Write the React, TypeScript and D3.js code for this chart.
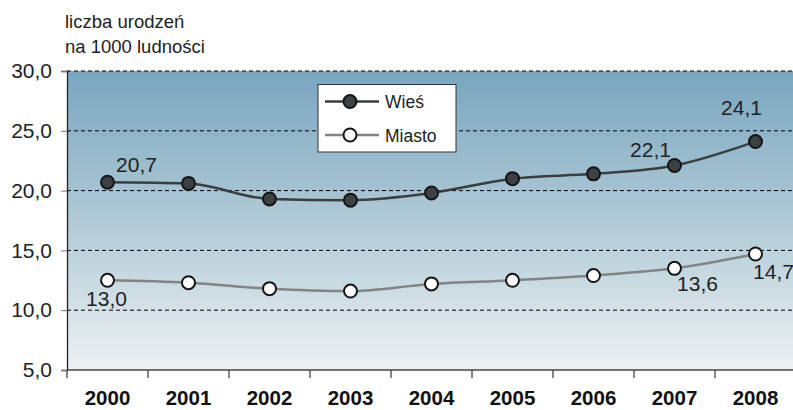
import React, { useEffect, useRef } from "react";
import * as d3 from "d3";

const years = ["2000", "2001", "2002", "2003", "2004", "2005", "2006", "2007", "2008"];
const wiesValues = [20.7, 20.6, 19.3, 19.2, 19.8, 21.0, 21.4, 22.1, 24.1];
const miastoValues = [12.5, 12.3, 11.8, 11.6, 12.2, 12.5, 12.9, 13.5, 14.7];
const yTicks = [5, 10, 15, 20, 25, 30];
const gridTicks = [10, 15, 20, 25, 30];

// value labels printed on the chart: [series, year index, text, dx, dy]
const valueLabels: Array<[string, number, string, number, number]> = [
  ["wies", 0, "20,7", 29, -10],
  ["wies", 7, "22,1", -24, -8],
  ["wies", 8, "24,1", -14, -27],
  ["miasto", 0, "13,0", -1, 26],
  ["miasto", 7, "13,6", 23, 23],
  ["miasto", 8, "14,7", 18, 25],
];

const FONT = "Arial, 'Liberation Sans', sans-serif";

const App: React.FC = () => {
  const svgRef = useRef<SVGSVGElement>(null);

  useEffect(() => {
    if (!svgRef.current) return;
    const svg = d3.select(svgRef.current);
    svg.selectAll("*").remove();

    const width = 793;
    const left = 67;
    const top = 71;
    const bottom = 370;
    const right = 796;

    const x = d3.scaleBand().domain(years).range([left, right]);
    const y = d3.scaleLinear().domain([5, 30]).range([bottom, top]);
    const cx = (i: number) => (x(years[i]) || 0) + x.bandwidth() / 2;

    // background gradient
    const defs = svg.append("defs");
    const grad = defs.append("linearGradient")
      .attr("id", "bg")
      .attr("x1", 0).attr("y1", 0).attr("x2", 0).attr("y2", 1);
    grad.append("stop").attr("offset", "0%").attr("stop-color", "#79a6c0");
    grad.append("stop").attr("offset", "50%").attr("stop-color", "#b0cad6");
    grad.append("stop").attr("offset", "100%").attr("stop-color", "#edf1f3");

    svg.append("rect")
      .attr("x", left)
      .attr("y", top)
      .attr("width", width - left)
      .attr("height", bottom - top)
      .attr("fill", "url(#bg)");

    // dashed gridlines
    svg.append("g")
      .selectAll("line")
      .data(gridTicks)
      .join("line")
      .attr("x1", left)
      .attr("x2", width)
      .attr("y1", d => y(d))
      .attr("y2", d => y(d))
      .attr("stroke", "#000")
      .attr("stroke-width", 1)
      .attr("stroke-dasharray", "4,3");

    // y axis
    const yAxis = svg.append("g")
      .attr("transform", `translate(${left},0)`)
      .call(d3.axisLeft(y).tickValues(yTicks).tickSize(6).tickFormat(d => d3.format(".1f")(d as number).replace(".", ",")));
    yAxis.select(".domain").attr("stroke", "#222").attr("stroke-width", 1.3);
    yAxis.selectAll(".tick line").attr("stroke", "#777");
    yAxis.selectAll(".tick text")
      .attr("x", -15)
      .attr("fill", "#222")
      .style("font-family", FONT)
      .style("font-size", "21px");

    // x axis
    const xAxis = svg.append("g")
      .attr("transform", `translate(0,${bottom})`);
    xAxis.append("line")
      .attr("x1", left).attr("x2", width)
      .attr("y1", 0).attr("y2", 0)
      .attr("stroke", "#444").attr("stroke-width", 1.3);
    xAxis.selectAll(".xt")
      .data(years)
      .join("line")
      .attr("class", "xt")
      .attr("x1", d => x(d) || 0)
      .attr("x2", d => x(d) || 0)
      .attr("y1", 0).attr("y2", 8)
      .attr("stroke", "#444")
      .attr("stroke-width", 1.3);
    xAxis.selectAll(".xl")
      .data(years)
      .join("text")
      .attr("class", "xl")
      .attr("x", d => (x(d) || 0) + x.bandwidth() / 2)
      .attr("y", 35)
      .attr("text-anchor", "middle")
      .attr("fill", "#111")
      .style("font-family", FONT)
      .style("font-size", "20.5px")
      .style("font-weight", "bold")
      .text(d => d);

    // axis title
    const title = svg.append("text")
      .attr("fill", "#222")
      .style("font-family", FONT)
      .style("font-size", "18.5px");
    title.append("tspan").attr("x", 65).attr("y", 28).text("liczba urodzeń");
    title.append("tspan").attr("x", 65).attr("y", 53).text("na 1000 ludności");

    // lines
    const line = d3.line<number>()
      .x((_, i) => cx(i))
      .y(d => y(d))
      .curve(d3.curveMonotoneX);

    svg.append("path")
      .datum(wiesValues)
      .attr("d", line)
      .attr("fill", "none")
      .attr("stroke", "#3a3e40")
      .attr("stroke-width", 2.5);

    svg.append("path")
      .datum(miastoValues)
      .attr("d", line)
      .attr("fill", "none")
      .attr("stroke", "#808486")
      .attr("stroke-width", 2.5);

    svg.append("g")
      .selectAll("circle")
      .data(wiesValues)
      .join("circle")
      .attr("cx", (_, i) => cx(i))
      .attr("cy", d => y(d))
      .attr("r", 6.5)
      .attr("fill", "#3b4144")
      .attr("stroke", "#151515")
      .attr("stroke-width", 2);

    svg.append("g")
      .selectAll("circle")
      .data(miastoValues)
      .join("circle")
      .attr("cx", (_, i) => cx(i))
      .attr("cy", d => y(d))
      .attr("r", 6.5)
      .attr("fill", "#fff")
      .attr("stroke", "#151515")
      .attr("stroke-width", 2);

    // value labels
    svg.append("g")
      .selectAll("text")
      .data(valueLabels)
      .join("text")
      .attr("x", d => cx(d[1]) + d[3])
      .attr("y", d => y(d[0] === "wies" ? wiesValues[d[1]] : miastoValues[d[1]]) + d[4])
      .attr("text-anchor", "middle")
      .attr("fill", "#222")
      .style("font-family", FONT)
      .style("font-size", "21px")
      .text(d => d[2]);

    // legend
    const legend = svg.append("g").attr("transform", "translate(318,84.5)");
    legend.append("rect")
      .attr("width", 138)
      .attr("height", 67.5)
      .attr("fill", "#fff")
      .attr("stroke", "#333")
      .attr("stroke-width", 1);
    const items = [
      { name: "Wieś", stroke: "#3a3e40", fill: "#3b4144", yy: 17 },
      { name: "Miasto", stroke: "#808486", fill: "#fff", yy: 50.5 },
    ];
    items.forEach(it => {
      legend.append("line")
        .attr("x1", 7).attr("x2", 61)
        .attr("y1", it.yy).attr("y2", it.yy)
        .attr("stroke", it.stroke).attr("stroke-width", 2.5);
      legend.append("circle")
        .attr("cx", 32).attr("cy", it.yy).attr("r", 6.5)
        .attr("fill", it.fill).attr("stroke", "#151515").attr("stroke-width", 2);
      legend.append("text")
        .attr("x", 67).attr("y", it.yy + 6.5)
        .attr("fill", "#222")
        .style("font-family", FONT)
        .style("font-size", "17.5px")
        .text(it.name);
    });
  }, []);

  return <svg ref={svgRef} width={793} height={410} style={{ position: "absolute", left: 0, top: 0 }} />;
};

export default App;
